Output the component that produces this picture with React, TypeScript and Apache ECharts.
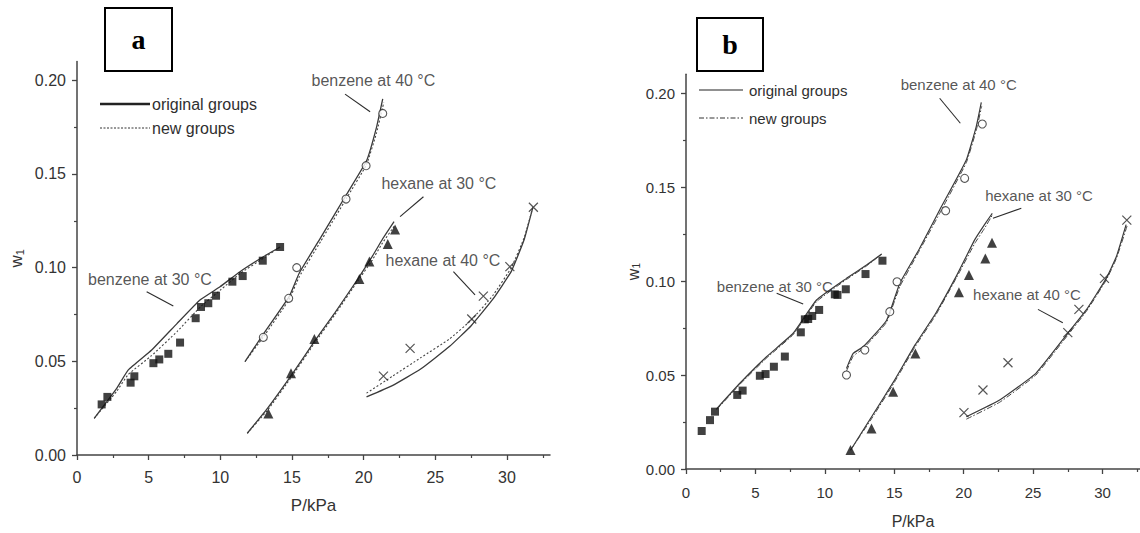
import React, { useEffect, useRef } from "react";
import * as echarts from "echarts";

// ---------- axis ticks ----------
const yTicks = [0, 0.05, 0.1, 0.15, 0.2];
const xTicks = [0, 5, 10, 15, 20, 25, 30];

// ---------- panel a : measured points [P/kPa, w1] ----------
const aBenzene30 = [[1.72, 0.027], [2.12, 0.031], [3.74, 0.0386], [4.0, 0.042], [5.33, 0.049], [5.74, 0.051], [6.37, 0.054], [7.19, 0.06], [8.28, 0.073], [8.65, 0.079], [9.16, 0.081], [9.7, 0.085], [10.84, 0.0925], [11.56, 0.0955], [12.96, 0.1037], [14.17, 0.111]];
const aBenzene40 = [[13.0, 0.0628], [14.77, 0.0836], [15.33, 0.1], [18.77, 0.1366], [20.17, 0.1544], [21.33, 0.1823]];
const aHexane30 = [[13.35, 0.0222], [14.93, 0.0436], [16.56, 0.0619], [19.7, 0.0939], [20.4, 0.1032], [21.68, 0.1126], [22.19, 0.1204]];
const aHexane40 = [[21.38, 0.0421], [23.24, 0.0569], [27.54, 0.0726], [28.35, 0.0848], [30.2, 0.1005], [31.84, 0.1322]];

// panel a : model curves
const aBenz30Orig = [[1.2, 0.0196], [2.77, 0.0356], [3.58, 0.0454], [5.21, 0.056], [6.96, 0.07], [8.58, 0.0827], [9.98, 0.0898], [11.37, 0.0978], [13.0, 0.1058], [14.17, 0.111]];
const aBenz30New = [[1.2, 0.0196], [2.77, 0.034], [3.58, 0.043], [5.2, 0.053], [7.0, 0.066], [8.6, 0.079], [10.0, 0.088], [11.4, 0.097], [13.0, 0.105], [14.17, 0.111]];
const aBenz40Orig = [[11.72, 0.0498], [13.0, 0.0645], [14.8, 0.0845], [15.5, 0.097], [17.0, 0.116], [18.8, 0.139], [20.2, 0.157], [20.9, 0.175], [21.33, 0.19]];
const aBenz40New = [[11.72, 0.0498], [13.0, 0.063], [14.8, 0.083], [15.5, 0.095], [17.0, 0.114], [18.8, 0.137], [20.2, 0.155], [20.9, 0.172], [21.4, 0.188]];
const aHex30Orig = [[11.88, 0.0116], [13.3, 0.025], [15.0, 0.043], [16.6, 0.061], [18.0, 0.076], [19.6, 0.094], [20.6, 0.106], [21.3, 0.115], [22.12, 0.1245]];
const aHex30New = [[11.88, 0.0116], [13.3, 0.024], [15.0, 0.042], [16.6, 0.06], [18.0, 0.075], [19.6, 0.093], [20.6, 0.104], [21.3, 0.113], [22.12, 0.122]];
const aHex40Orig = [[20.2, 0.031], [22.0, 0.037], [24.0, 0.046], [26.0, 0.058], [27.5, 0.069], [29.0, 0.083], [30.3, 0.098], [31.2, 0.115], [31.8, 0.132]];
const aHex40New = [[20.2, 0.033], [22.0, 0.042], [24.0, 0.052], [26.0, 0.062], [27.5, 0.072], [29.0, 0.085], [30.3, 0.1], [31.2, 0.116], [31.8, 0.132]];

// ---------- panel b : measured points ----------
const bBenzene30 = [[1.13, 0.0202], [1.73, 0.026], [2.09, 0.0305], [3.69, 0.0394], [4.08, 0.0417], [5.32, 0.0496], [5.73, 0.0505], [6.33, 0.0544], [7.12, 0.0598], [8.27, 0.0727], [8.56, 0.0796], [8.8, 0.0798], [9.09, 0.0814], [9.59, 0.0846], [10.72, 0.0929], [10.91, 0.0926], [11.51, 0.0956], [12.93, 0.1037], [14.15, 0.1108]];
const bBenzene40 = [[11.56, 0.05], [12.88, 0.0633], [14.68, 0.0837], [15.2, 0.0996], [18.7, 0.1374], [20.07, 0.1546], [21.34, 0.1835]];
const bHexane30 = [[11.85, 0.0101], [13.36, 0.0216], [14.92, 0.0411], [16.52, 0.0615], [19.66, 0.094], [20.38, 0.1032], [21.56, 0.112], [22.04, 0.1204]];
const bHexane40 = [[20.02, 0.03], [21.39, 0.042], [23.19, 0.0565], [27.5, 0.0725], [28.3, 0.0849], [30.14, 0.1014], [31.75, 0.1324]];

// panel b : model curves
const bBenz30Orig = [[2.2, 0.032], [3.88, 0.0456], [5.8, 0.0597], [7.72, 0.0722], [9.4, 0.0899], [11.56, 0.1014], [13.0, 0.1085], [14.1, 0.1144]];
const bBenz30New = [[2.2, 0.0315], [3.88, 0.045], [5.8, 0.059], [7.72, 0.0715], [9.4, 0.089], [11.56, 0.1008], [13.0, 0.108], [14.1, 0.1144]];
const bBenz40Orig = [[11.56, 0.0535], [12.04, 0.0615], [12.76, 0.065], [14.44, 0.079], [15.4, 0.0988], [16.8, 0.117], [18.27, 0.1378], [20.19, 0.1644], [20.9, 0.182], [21.27, 0.195]];
const bBenz40New = [[11.56, 0.052], [12.04, 0.06], [12.76, 0.064], [14.44, 0.078], [15.4, 0.097], [16.8, 0.116], [18.27, 0.136], [20.19, 0.163], [20.9, 0.18], [21.3, 0.193]];
const bHex30Orig = [[11.85, 0.01], [13.3, 0.027], [15.0, 0.047], [16.5, 0.066], [18.0, 0.083], [19.5, 0.103], [20.8, 0.122], [21.5, 0.13], [22.06, 0.136]];
const bHex30New = [[11.85, 0.01], [13.3, 0.026], [15.0, 0.046], [16.5, 0.065], [18.0, 0.082], [19.5, 0.102], [20.8, 0.12], [21.5, 0.128], [22.06, 0.135]];
const bHex40Orig = [[20.19, 0.0278], [22.59, 0.0367], [25.2, 0.0509], [27.5, 0.0722], [28.83, 0.0846], [30.27, 0.1014], [31.0, 0.113], [31.7, 0.13]];
const bHex40New = [[20.19, 0.0265], [22.59, 0.0355], [25.2, 0.05], [27.5, 0.0712], [28.83, 0.0838], [30.27, 0.1005], [31.0, 0.112], [31.8, 0.13]];

// ---------- annotations (text anchor and arrow, in data units) ----------
const aNotes = [
  { text: "benzene at 40 °C", at: [20.68, 0.1996], from: [18.7, 0.1926], to: [20.45, 0.1832] },
  { text: "hexane at 30 °C", at: [25.25, 0.1451], from: [24.17, 0.1378], to: [22.54, 0.1272] },
  { text: "benzene at 30 °C", at: [5.09, 0.0939], from: [4.86, 0.0871], to: [6.72, 0.0795] },
  { text: "hexane at 40 °C", at: [25.53, 0.104], from: [26.26, 0.0978], to: [27.77, 0.0854] },
];
const bNotes = [
  { text: "benzene at 40 °C", at: [19.64, 0.2043], from: [18.27, 0.1972], to: [19.76, 0.1839] },
  { text: "hexane at 30 °C", at: [25.43, 0.1457], from: [24.15, 0.1387], to: [22.11, 0.1334] },
  { text: "benzene at 30 °C", at: [6.4, 0.0973], from: [6.53, 0.0935], to: [8.44, 0.0878] },
  { text: "hexane at 40 °C", at: [24.56, 0.0926], from: [25.35, 0.0849], to: [27.14, 0.0778] },
];

const legendLabels = ["original groups", "new groups"];

const INK = "#2b2b2b";
const FONT = "'Liberation Sans', Arial, sans-serif";
const CROSS = "path://M0,0L10,10M10,0L0,10";

function makeAxes(idx: number, fontSize: number, xMax: number, yNameGap: number, xNameGap: number, xLabelMargin: number) {
  const axisCommon = {
    gridIndex: idx,
    type: "value",
    splitLine: { show: false },
    axisLine: { show: true, onZero: false, lineStyle: { color: "#444", width: 1.5 } },
    axisTick: { show: true, length: 5, lineStyle: { color: "#444", width: 1.3 } },
    minorTick: { show: true, splitNumber: 2, length: 3, lineStyle: { color: "#444", width: 1.2 } },
    axisLabel: { color: "#333", fontFamily: FONT, fontSize },
  };
  const x = {
    ...axisCommon,
    min: 0,
    max: xMax,
    interval: 5,
    axisTick: { ...axisCommon.axisTick, customValues: xTicks },
    axisLabel: { ...axisCommon.axisLabel, margin: xLabelMargin, customValues: xTicks },
    name: "P/kPa",
    nameLocation: "middle",
    nameGap: xNameGap,
    nameTextStyle: { color: "#333", fontFamily: FONT, fontSize: fontSize + 1 },
  };
  const y = {
    ...axisCommon,
    min: 0,
    max: 0.21,
    interval: 0.05,
    axisTick: { ...axisCommon.axisTick, customValues: yTicks },
    axisLabel: {
      ...axisCommon.axisLabel,
      margin: 11,
      customValues: yTicks,
      formatter: (v: number) => v.toFixed(2),
    },
    name: "{w|w}{s|1}",
    nameLocation: "middle",
    nameGap: yNameGap,
    nameTextStyle: {
      color: "#333",
      fontFamily: FONT,
      rich: {
        w: { fontSize: fontSize + 1, fontFamily: FONT, color: "#333" },
        s: { fontSize: fontSize - 5, fontFamily: FONT, color: "#333", padding: [7, 0, 0, 0] },
      },
    },
  };
  return { x, y };
}

function makeSeries(
  idx: number,
  pts: { sq: number[][]; ci: number[][]; tr: number[][]; cr: number[][] },
  curves: number[][][][],
  notes: typeof aNotes,
  origStyle: any,
  newStyle: any,
  fontSize: number,
  sq: number
) {
  const out: any[] = [];
  curves.forEach(([orig, nw], i) => {
    out.push({
      type: "line",
      name: "original groups " + idx + i,
      xAxisIndex: idx,
      yAxisIndex: idx,
      data: orig,
      smooth: 0.12,
      showSymbol: false,
      symbol: "none",
      lineStyle: origStyle,
      z: 2,
      silent: true,
    });
    out.push({
      type: "line",
      name: "new groups " + idx + i,
      xAxisIndex: idx,
      yAxisIndex: idx,
      data: nw,
      smooth: 0.12,
      showSymbol: false,
      symbol: "none",
      lineStyle: newStyle,
      z: 2,
      silent: true,
    });
  });
  const sc = (data: number[][], symbol: string, size: number, itemStyle: any) => ({
    type: "scatter",
    xAxisIndex: idx,
    yAxisIndex: idx,
    data,
    symbol,
    symbolSize: size,
    itemStyle,
    z: 4,
    silent: true,
  });
  out.push(sc(pts.sq, "rect", sq, { color: "#111" }));
  out.push(sc(pts.ci, "circle", 8, { color: "#fff", borderColor: INK, borderWidth: 1.1 }));
  out.push(sc(pts.tr, "triangle", 10, { color: "#111" }));
  out.push(sc(pts.cr, CROSS, 9, { color: "rgba(0,0,0,0)", borderColor: INK, borderWidth: 1.2 }));
  out.push({
    type: "scatter",
    xAxisIndex: idx,
    yAxisIndex: idx,
    data: notes.map((n) => ({ value: n.at, name: n.text })),
    symbolSize: 0,
    silent: true,
    z: 6,
    label: {
      show: true,
      position: "inside",
      formatter: (p: any) => p.name,
      color: "#2a2a2a",
      fontFamily: FONT,
      fontSize,
    },
    markLine: {
      silent: true,
      symbol: ["none", "arrow"],
      symbolSize: [0, 9],
      label: { show: false },
      lineStyle: { color: INK, width: 1.1, type: "solid" },
      data: notes.map((n) => [{ coord: n.from }, { coord: n.to }]),
      animation: false,
    },
  });
  return out;
}

export default function App() {
  const ref = useRef<HTMLDivElement>(null);
  useEffect(() => {
    if (!ref.current) return;
    const chart = echarts.init(ref.current, null, { renderer: "svg" });
    const A = makeAxes(0, 16, 33, 52, 42, 14);
    const B = makeAxes(1, 15, 32.7, 40, 44, 16);
    const series = [
      ...makeSeries(
        0,
        { sq: aBenzene30, ci: aBenzene40, tr: aHexane30, cr: aHexane40 },
        [
          [aBenz30Orig, aBenz30New],
          [aBenz40Orig, aBenz40New],
          [aHex30Orig, aHex30New],
          [aHex40Orig, aHex40New],
        ],
        aNotes,
        { color: "#3a3a3a", width: 1.3, type: "solid" },
        { color: "#444", width: 1.1, type: [2, 2] },
        16,
        8
      ),
      ...makeSeries(
        1,
        { sq: bBenzene30, ci: bBenzene40, tr: bHexane30, cr: bHexane40 },
        [
          [bBenz30Orig, bBenz30New],
          [bBenz40Orig, bBenz40New],
          [bHex30Orig, bHex30New],
          [bHex40Orig, bHex40New],
        ],
        bNotes,
        { color: "#3a3a3a", width: 1.2, type: "solid" },
        { color: "#444", width: 1, type: [6, 2, 1.5, 2] },
        15,
        8
      ),
    ];
    const legendItems = (x0: number, x1: number, tx: number, y0: number, y1: number, fs: number, s0: any, s1: any) => [
      { type: "line", shape: { x1: x0, y1: y0, x2: x1, y2: y0 }, style: s0 },
      { type: "text", x: tx, y: y0, style: { text: legendLabels[0], fill: "#2f2f2f", font: `${fs}px ${FONT}`, verticalAlign: "middle" } },
      { type: "line", shape: { x1: x0, y1: y1, x2: x1, y2: y1 }, style: s1 },
      { type: "text", x: tx, y: y1, style: { text: legendLabels[1], fill: "#2f2f2f", font: `${fs}px ${FONT}`, verticalAlign: "middle" } },
    ];
    const box = (x: number, y: number, w: number, h: number, label: string) => [
      { type: "rect", shape: { x, y, width: w, height: h }, style: { fill: "#fff", stroke: "#000", lineWidth: 2 } },
      {
        type: "text",
        x: x + w / 2,
        y: y + h / 2,
        style: { text: label, fill: "#000", font: "bold 28px 'Liberation Serif', 'Times New Roman', serif", align: "center", verticalAlign: "middle" },
      },
    ];
    chart.setOption({
      animation: false,
      backgroundColor: "#fff",
      grid: [
        { left: 77, top: 61.5, width: 473, height: 393.5, containLabel: false, outerBoundsMode: "none" },
        { left: 686, top: 74.2, width: 454, height: 394.8, containLabel: false, outerBoundsMode: "none" },
      ],
      xAxis: [A.x, B.x],
      yAxis: [A.y, B.y],
      series,
      graphic: [
        ...box(105, 8, 67, 63, "a"),
        ...box(697, 18, 66, 53, "b"),
        ...legendItems(100, 150, 152, 104, 128, 16,
          { stroke: "#222", lineWidth: 2.6 },
          { stroke: "#333", lineWidth: 1, lineDash: [2, 1.5] }),
        ...legendItems(699, 743, 749, 90, 118, 15,
          { stroke: "#222", lineWidth: 1.2 },
          { stroke: "#333", lineWidth: 1, lineDash: [5, 2, 1.5, 2] }),
      ],
    });
    return () => chart.dispose();
  }, []);
  return <div ref={ref} style={{ position: "absolute", left: 0, top: 0, width: 1140, height: 533 }} />;
}
